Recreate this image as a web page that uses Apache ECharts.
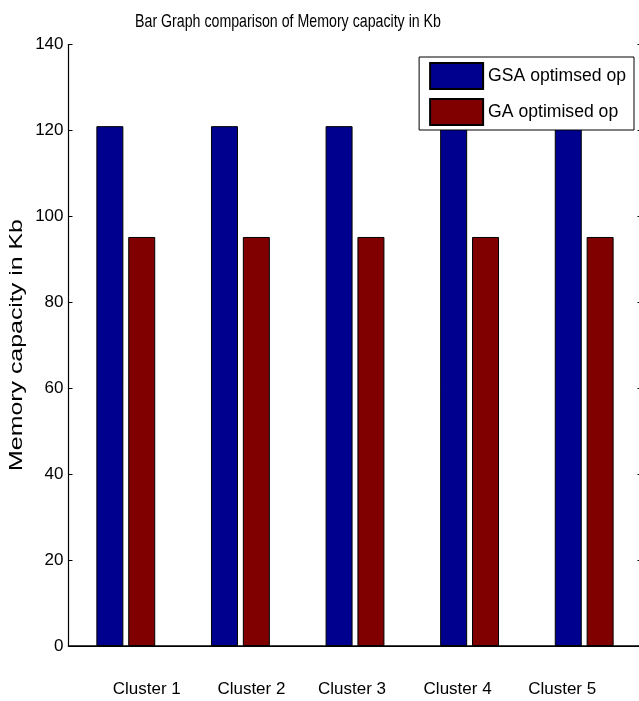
<!DOCTYPE html>
<html>
<head>
<meta charset="utf-8">
<script src="https://cdn.jsdelivr.net/npm/echarts@6/dist/echarts.min.js"></script>
<style>
  html, body { margin: 0; padding: 0; background: #fff; }
  #chart { width: 639px; height: 701px; }
</style>
</head>
<body>
<div id="chart"></div>
<script>
// Categories and values for the memory-capacity comparison
const clusters = ['Cluster 1', 'Cluster 2', 'Cluster 3', 'Cluster 4', 'Cluster 5'];
const gsaValues = [121, 121, 121, 121, 121];
const gaValues = [95.2, 95.2, 95.2, 95.2, 95.2];
const seriesNames = ['GSA optimsed op', 'GA optimised op'];
const yTicks = { min: 0, max: 140, step: 20 };
const chartTitle = 'Bar Graph comparison of Memory capacity in Kb';
const yLabel = 'Memory capacity in Kb';

const font = '"Liberation Sans", Arial, sans-serif';

// horizontal nudge (px) of each cluster label relative to its category centre
const labelNudge = [21, 11, -3, -12, -22];
const labelRich = {};
labelNudge.forEach((n, i) => {
  labelRich['s' + i] = {
    fontFamily: font,
    fontSize: 17,
    color: '#000',
    padding: n >= 0 ? [0, 0, 0, 2 * n] : [0, -2 * n, 0, 0]
  };
});

const chart = echarts.init(document.getElementById('chart'), null, { renderer: 'canvas' });

chart.setOption({
  animation: false,
  backgroundColor: '#ffffff',
  legend: {
    data: seriesNames,
    orient: 'vertical',
    right: 5,
    top: 57,
    itemWidth: 53,
    itemHeight: 26,
    itemGap: 8,
    padding: [5, 8, 4, 10],
    backgroundColor: '#ffffff',
    borderColor: '#000',
    borderWidth: 1,
    icon: 'rect',
    textStyle: { fontFamily: font, fontSize: 17.6, color: '#000' }
  },
  // title and vertical axis title, drawn with a slight vertical stretch
  graphic: [
    {
      type: 'text',
      x: 288,
      y: 22,
      scaleY: 1.25,
      style: {
        text: chartTitle,
        fontFamily: font,
        fontSize: 14.2,
        fill: '#000',
        align: 'center',
        verticalAlign: 'middle'
      }
    },
    {
      type: 'text',
      x: 17,
      y: 345,
      rotation: Math.PI / 2,
      scaleX: 1.31,
      style: {
        text: yLabel,
        fontFamily: font,
        fontSize: 19,
        fill: '#000',
        align: 'center',
        verticalAlign: 'middle'
      }
    }
  ],
  grid: { left: 68.5, top: 44.5, bottom: 55, right: -2.5, outerBoundsMode: 'none', containLabel: false },
  xAxis: [
    {
      type: 'category',
      data: clusters,
      position: 'bottom',
      axisLine: { lineStyle: { color: '#000', width: 1.5 } },
      axisTick: { show: false },
      axisLabel: {
        interval: 0,
        hideOverlap: false,
        fontFamily: font,
        fontSize: 17,
        color: '#000',
        margin: 35,
        formatter: (value, index) => '{s' + index + '|' + value + '}',
        rich: labelRich
      }
    },
    {
      type: 'category',
      data: clusters,
      position: 'top',
      axisLine: { lineStyle: { color: '#000', width: 1.2 } },
      axisTick: { show: false },
      axisLabel: { show: false }
    }
  ],
  yAxis: [
    {
      type: 'value',
      min: yTicks.min,
      max: yTicks.max,
      interval: yTicks.step,
      position: 'left',
      axisLine: { show: true, lineStyle: { color: '#000', width: 1.2 } },
      axisTick: { show: true, inside: true, length: 4, lineStyle: { color: '#000' } },
      axisLabel: { fontFamily: font, fontSize: 17, color: '#000', margin: 5 },
      splitLine: { show: false }
    },
    {
      type: 'value',
      min: yTicks.min,
      max: yTicks.max,
      interval: yTicks.step,
      position: 'right',
      axisLine: { show: true, lineStyle: { color: '#000', width: 1.2 } },
      axisTick: { show: true, inside: true, length: 4, lineStyle: { color: '#000' } },
      axisLabel: { show: false },
      splitLine: { show: false }
    }
  ],
  series: [
    {
      name: seriesNames[0],
      type: 'bar',
      data: gsaValues,
      barWidth: 27,
      barGap: '18%',
      itemStyle: { color: '#00008f', borderColor: '#000', borderWidth: 1 }
    },
    {
      name: seriesNames[1],
      type: 'bar',
      data: gaValues,
      barWidth: 27,
      barGap: '18%',
      itemStyle: { color: '#800000', borderColor: '#000', borderWidth: 1 }
    }
  ]
});
</script>
</body>
</html>
